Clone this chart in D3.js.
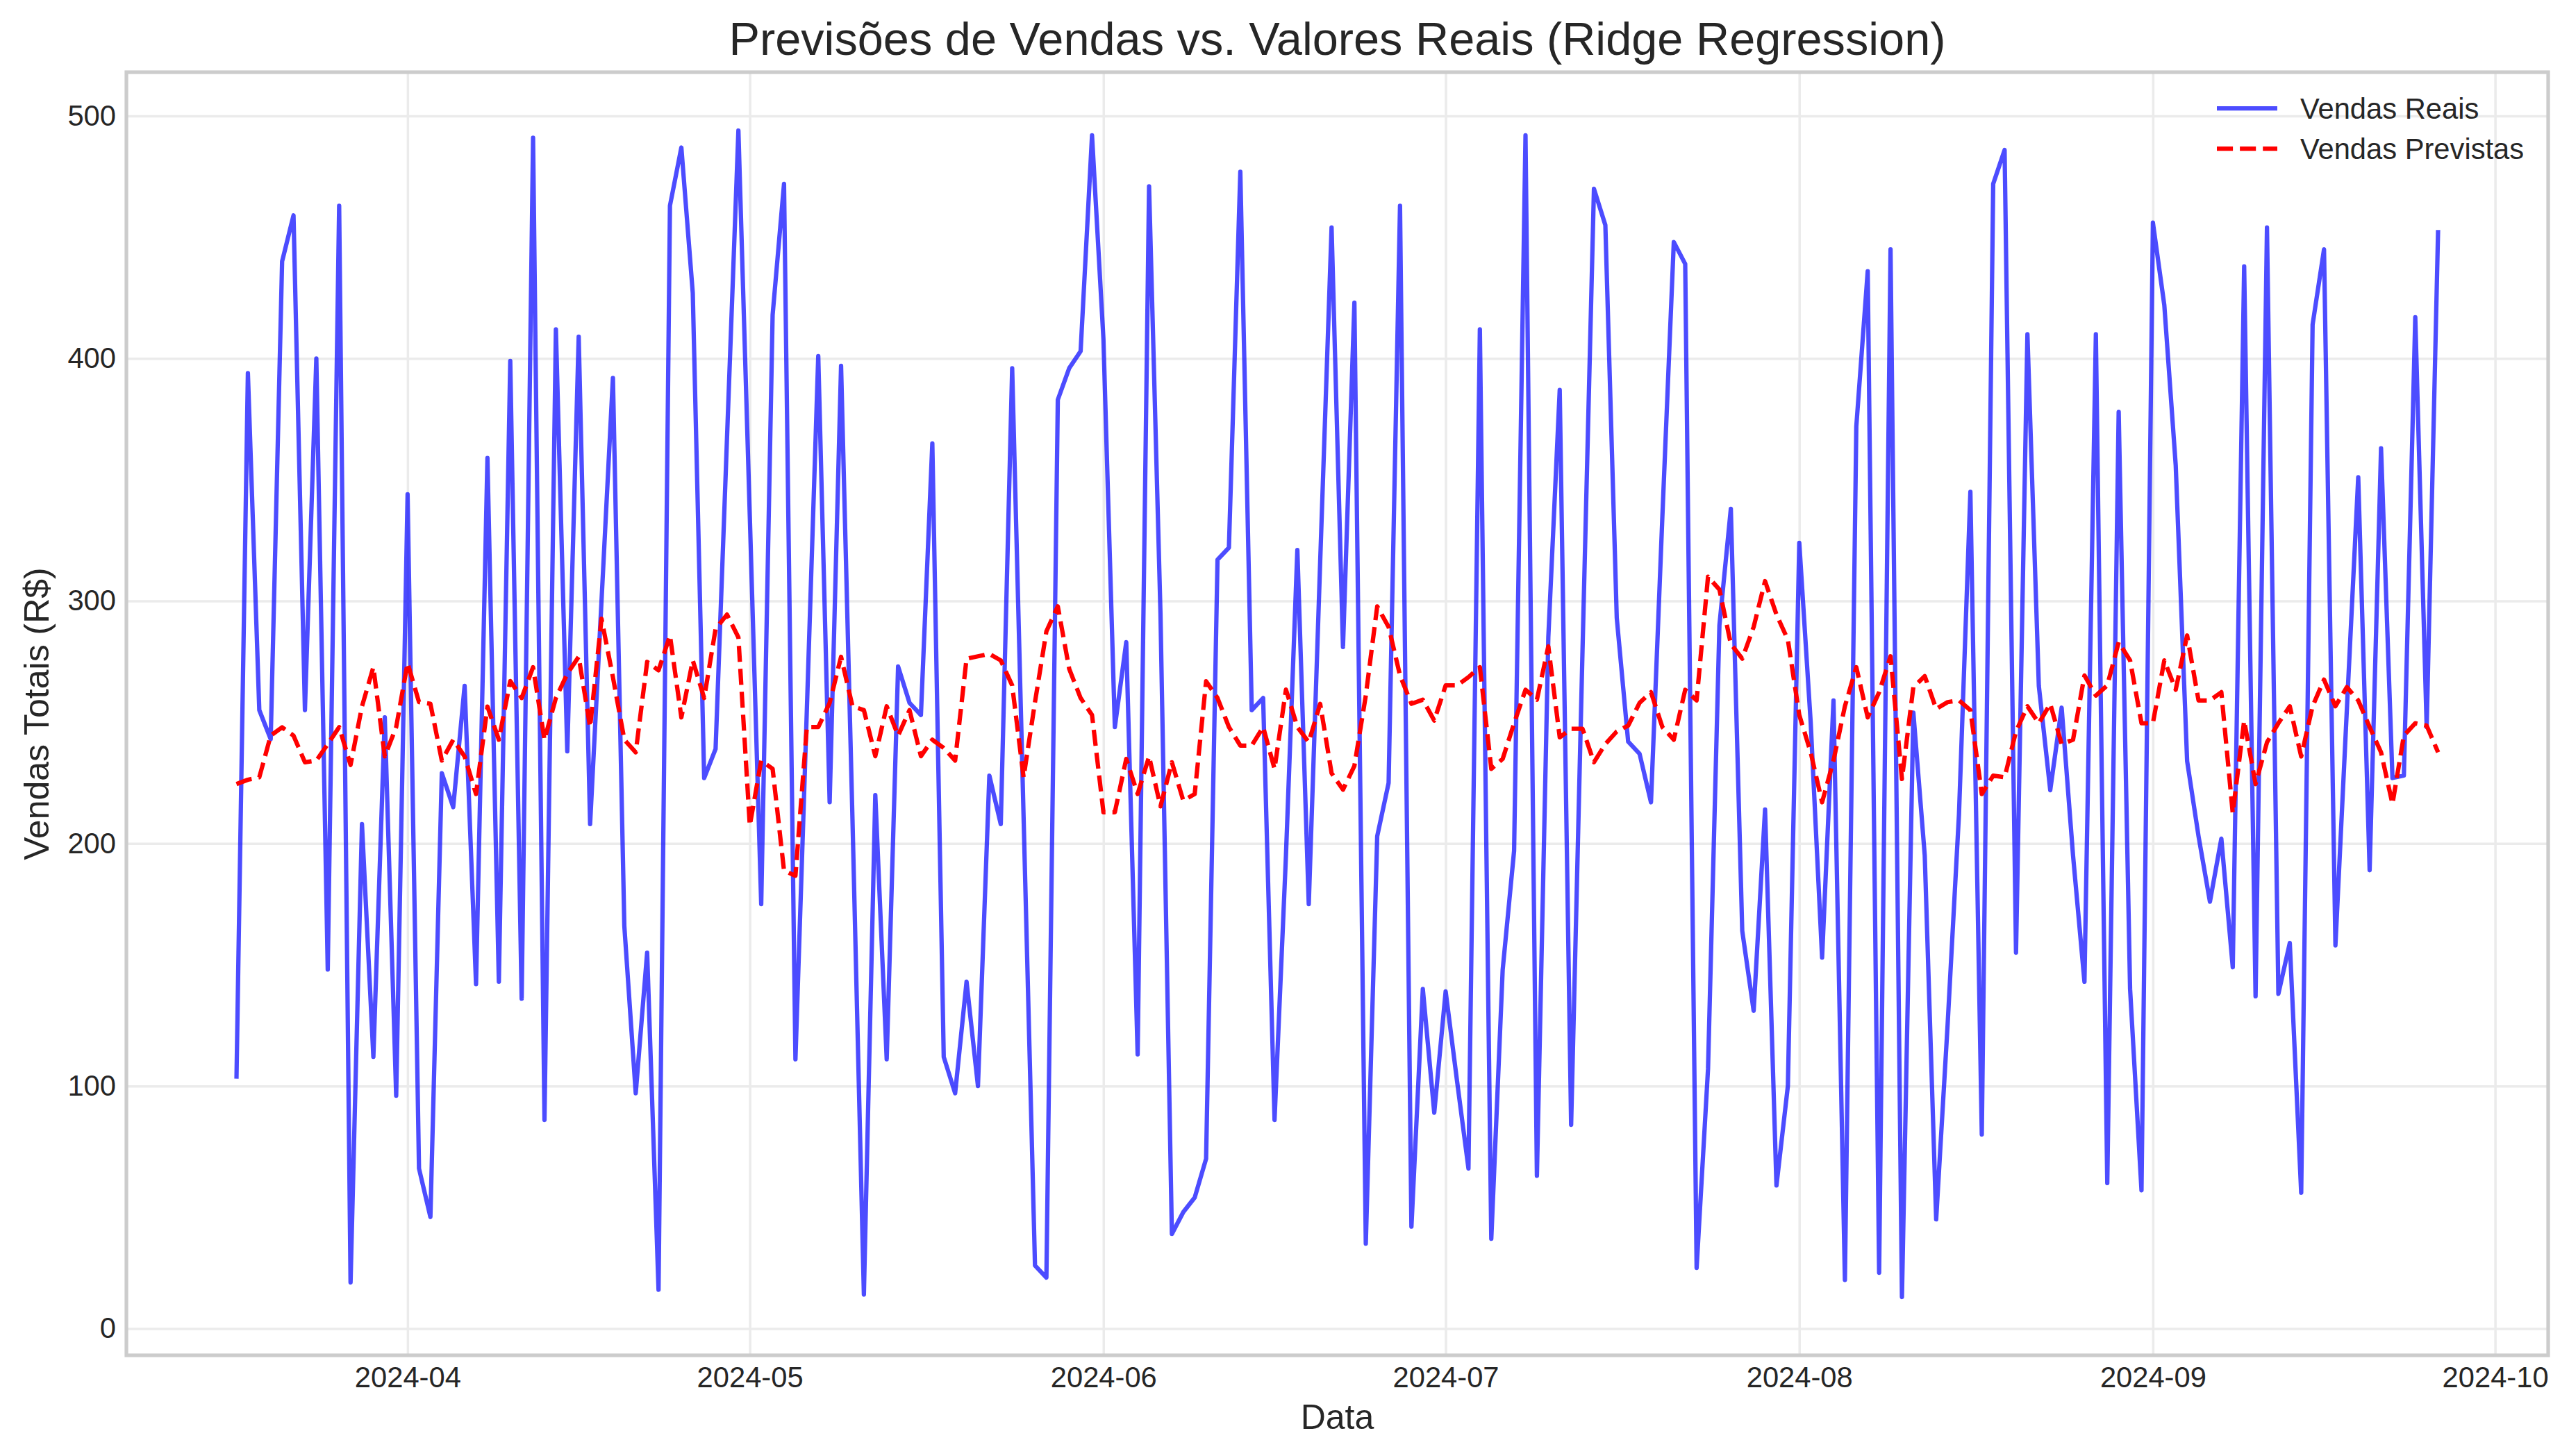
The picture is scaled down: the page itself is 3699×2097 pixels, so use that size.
<!DOCTYPE html>
<html>
<head>
<meta charset="utf-8">
<script src="https://cdn.jsdelivr.net/npm/d3@7"></script>
<style>
  html, body { margin: 0; padding: 0; background: #ffffff; }
  svg { display: block; }
  text { font-family: "Liberation Sans", Arial, Helvetica, sans-serif; fill: #262626; }
</style>
</head>
<body>
<svg id="chart" width="3699" height="2097"></svg>
<script>
// ---------------- DATA ----------------
const firstDay = "2024-03-17";
const lastDay = "2024-09-26";

const vendasReais = [
  // Mar 17-31
  103, 394, 255, 243, 440, 459, 255, 400, 148, 463, 19, 208, 112, 252, 96,
  // Apr
  344, 66, 46, 229, 215, 265, 142, 359, 143, 399, 136, 491, 86, 412, 238,
  409, 208, 300, 392, 166, 97, 155, 16, 463, 487, 427, 227, 239, 367, 494,
  // May
  335, 175, 418, 472, 111, 255, 401, 217, 397, 210, 14, 220, 111, 273, 258,
  253, 365, 112, 97, 143, 100, 228, 208, 396, 211, 26, 21, 383, 396, 403, 492,
  // Jun
  408, 248, 283, 113, 471, 295, 39, 48, 54, 70, 317, 322, 477, 255, 260,
  86, 195, 321, 175, 316, 454, 281, 423, 35, 203, 225, 463, 42, 140, 89,
  // Jul
  139, 102, 66, 412, 37, 148, 197, 492, 63, 285, 387, 84, 280, 470, 455,
  293, 242, 237, 217, 335, 448, 439, 25, 107, 290, 338, 164, 131, 214, 59, 100,
  // Aug
  324, 250, 153, 259, 20, 372, 436, 23, 445, 13, 254, 195, 45, 125, 212,
  345, 80, 472, 486, 155, 410, 265, 222, 256, 195, 143, 410, 60, 378, 140, 57,
  // Sep 1-26
  456, 422, 356, 234, 203, 176, 202, 149, 438, 137, 454, 138, 159, 56, 414,
  445, 158, 255, 351, 189, 363, 227, 228, 417, 248, 453
];

const vendasPrevistas = [
  // Mar 17-31
  224.5, 226.3, 227.3, 244.5, 247.9, 244.5, 233.5, 234.2, 241, 248, 232.4, 256.5, 272.7, 235.9, 248,
  // Apr
  274.4, 258.3, 257.6, 234.2, 242.8, 235.9, 220.4, 256.5, 242.8, 267, 260, 272.7, 242.8, 260, 270,
  277, 248, 292.7, 268.6, 242.8, 237.6, 274.9, 271.4, 285.8, 252, 275.5, 260, 288.5, 294.4, 285,
  // May
  207.4, 234.2, 230.8, 188.8, 186.7, 248, 248, 258, 277, 256.6, 255, 236, 256.6, 244.5, 255,
  236, 242.8, 239.4, 234.2, 276.2, 277.2, 278.2, 275.5, 265.2, 227.3, 258.3, 287.5, 297.8, 272, 260, 253,
  // Jun
  212.9, 212.9, 234.9, 220.4, 235.9, 215.3, 233.5, 217.7, 220.4, 266.9, 260, 248, 240.4, 240.4, 248,
  230.8, 263.5, 248, 241.8, 257.6, 229, 222.2, 232, 261, 297.8, 289.3, 269.3, 257.6, 259.3, 250.7,
  // Jul
  265.2, 265.2, 268.6, 272.7, 230.8, 234.9, 249.6, 263.4, 259.3, 281.3, 243.8, 247.3, 247.3, 233.5, 241,
  246.2, 248.6, 258, 262.4, 248, 242.8, 263.4, 259, 310, 304.7, 282.3, 276.2, 289.3, 308.2, 294.4, 284,
  // Aug
  253, 237.6, 217, 234.2, 256.6, 272.7, 252, 262.4, 277.2, 226.6, 264.5, 269, 255.5, 258.3, 259,
  255, 220.4, 228, 227.3, 246.2, 256.6, 249.6, 257.6, 241, 242.8, 269.3, 261, 265.2, 283, 275.5, 249.6,
  // Sep 1-26
  249.6, 275.5, 263.4, 285.8, 259, 259, 262.4, 212.5, 250.7, 224.5, 241.7, 249.6, 256.6, 235.9, 256.6,
  267.6, 256.6, 264.5, 259, 248, 237.6, 216.3, 244.5, 249.6, 248.6, 237.6
];

const yTickValues = [0, 100, 200, 300, 400, 500];
const seriesNames = ["Vendas Reais", "Vendas Previstas"];
const titleText = "Previsões de Vendas vs. Valores Reais (Ridge Regression)";
const xLabelText = "Data";
const yLabelText = "Vendas Totais (R$)";

// ---------------- LAYOUT ----------------
const parseDay = d3.utcParse("%Y-%m-%d");
const dStart = parseDay(firstDay);
const dEnd = parseDay(lastDay);
const dates = d3.utcDay.range(dStart, d3.utcDay.offset(dEnd, 1));

const L = 182, R = 3669, T = 104, B = 1952;
const spanMs = dEnd - dStart;
const padMs = spanMs * 0.05;

const x = d3.scaleUtc()
  .domain([new Date(+dStart - padMs), new Date(+dEnd + padMs)])
  .range([L, R]);

const allVals = vendasReais.concat(vendasPrevistas);
const yMin = d3.min(allVals), yMax = d3.max(allVals);
const yPad = (yMax - yMin) * 0.05;
const y = d3.scaleLinear()
  .domain([yMin - yPad, yMax + yPad])
  .range([B, T]);

const svg = d3.select("#chart");
svg.append("rect").attr("x", 0).attr("y", 0).attr("width", 3699).attr("height", 2097).attr("fill", "#ffffff");

const tickFont = 41.7, labelFont = 50, titleFont = 66.7;
const gridColor = "#ebebeb";

// X axis with gridlines
const xAxis = d3.axisBottom(x)
  .ticks(d3.utcMonth.every(1))
  .tickFormat(d3.utcFormat("%Y-%m"))
  .tickSize(-(B - T))
  .tickPadding(16);

const gx = svg.append("g").attr("transform", `translate(0,${B})`).call(xAxis);
gx.select(".domain").remove();
gx.selectAll(".tick line").attr("stroke", gridColor).attr("stroke-width", 3.5);
gx.selectAll(".tick text")
  .attr("font-size", tickFont)
  .attr("fill", "#262626")
  .style("font-family", '"Liberation Sans", Arial, sans-serif');

// Y axis with gridlines
const yAxis = d3.axisLeft(y)
  .tickValues(yTickValues)
  .tickFormat(d3.format("d"))
  .tickSize(-(R - L))
  .tickPadding(15);

const gy = svg.append("g").attr("transform", `translate(${L},0)`).call(yAxis);
gy.select(".domain").remove();
gy.selectAll(".tick line").attr("stroke", gridColor).attr("stroke-width", 3.5);
gy.selectAll(".tick text")
  .attr("font-size", tickFont)
  .attr("fill", "#262626")
  .style("font-family", '"Liberation Sans", Arial, sans-serif');

// Clip for plotting area
svg.append("clipPath").attr("id", "plotclip")
  .append("rect").attr("x", L).attr("y", T).attr("width", R - L).attr("height", B - T);

const lineGen = d3.line()
  .x((d, i) => x(dates[i]))
  .y(d => y(d));

const plot = svg.append("g").attr("clip-path", "url(#plotclip)");

plot.append("path")
  .datum(vendasReais)
  .attr("d", lineGen)
  .attr("fill", "none")
  .attr("stroke", "blue")
  .attr("stroke-opacity", 0.7)
  .attr("stroke-width", 6.25)
  .attr("stroke-linejoin", "round");

plot.append("path")
  .datum(vendasPrevistas)
  .attr("d", lineGen)
  .attr("fill", "none")
  .attr("stroke", "red")
  .attr("stroke-width", 6.25)
  .attr("stroke-dasharray", "23.1,10")
  .attr("stroke-linejoin", "round");

// Spines
svg.append("rect")
  .attr("x", L).attr("y", T).attr("width", R - L).attr("height", B - T)
  .attr("fill", "none").attr("stroke", "#cccccc").attr("stroke-width", 5.2);

// Title
svg.append("text")
  .attr("x", (L + R) / 2).attr("y", 79)
  .attr("text-anchor", "middle")
  .attr("font-size", titleFont)
  .text(titleText);

// X label
svg.append("text")
  .attr("x", (L + R) / 2).attr("y", 2058)
  .attr("text-anchor", "middle")
  .attr("font-size", labelFont)
  .text(xLabelText);

// Y label
svg.append("text")
  .attr("transform", `translate(70,${(T + B) / 2}) rotate(-90)`)
  .attr("text-anchor", "middle")
  .attr("font-size", labelFont)
  .text(yLabelText);

// Legend
const legend = svg.append("g");
const legRows = [
  { name: seriesNames[0], color: "blue", opacity: 0.7, dash: null, cy: 156 },
  { name: seriesNames[1], color: "red", opacity: 1, dash: "23.1,10", cy: 214 }
];
legRows.forEach(r => {
  const ln = legend.append("line")
    .attr("x1", 3192).attr("x2", 3279)
    .attr("y1", r.cy).attr("y2", r.cy)
    .attr("stroke", r.color)
    .attr("stroke-opacity", r.opacity)
    .attr("stroke-width", 6.25);
  if (r.dash) ln.attr("stroke-dasharray", r.dash);
  legend.append("text")
    .attr("x", 3312).attr("y", r.cy + 15)
    .attr("font-size", tickFont)
    .text(r.name);
});
</script>
</body>
</html>
